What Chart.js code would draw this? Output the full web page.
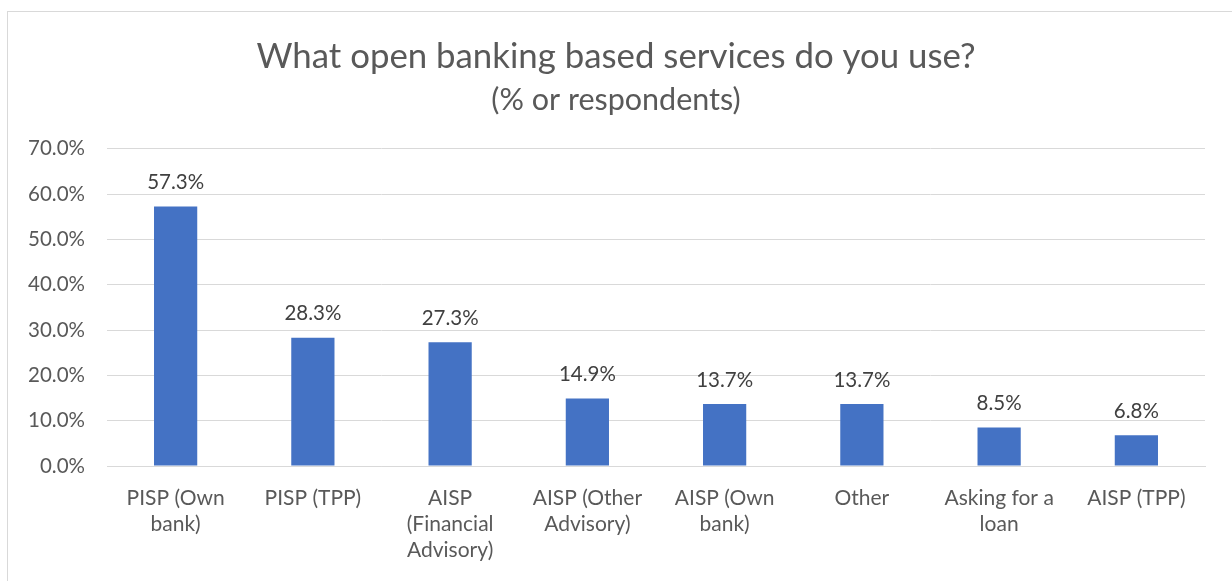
<!DOCTYPE html>
<html>
<head>
<meta charset="utf-8">
<script src="https://cdn.jsdelivr.net/npm/chart.js@4/dist/chart.umd.min.js"></script>
<style>
  html, body { margin: 0; padding: 0; background: #fff; }
  #wrap { width: 1232px; height: 581px; position: relative; }
</style>
</head>
<body>
<div id="wrap"><canvas id="chart" width="1232" height="581"></canvas></div>
<script>
const categories = [
  ['PISP (Own', 'bank)'],
  'PISP (TPP)',
  ['AISP', '(Financial', 'Advisory)'],
  ['AISP (Other', 'Advisory)'],
  ['AISP (Own', 'bank)'],
  'Other',
  ['Asking for a', 'loan'],
  'AISP (TPP)'
]
const shares = [57.3, 28.3, 27.3, 14.9, 13.7, 13.7, 8.5, 6.8]

const FONT = 'Lato, "Liberation Sans", sans-serif'

// light frame round the chart (only top + left show in the picture)
const framePlugin = {
  id: 'frame',
  beforeDraw(chart) {
    const ctx = chart.ctx
    ctx.save()
    ctx.strokeStyle = '#d9d9d9'
    ctx.lineWidth = 1
    ctx.strokeRect(7.5, 11.5, 1240, 600)
    ctx.restore()
  }
}

// value labels above each bar
const valueLabels = {
  id: 'valueLabels',
  afterDatasetsDraw(chart) {
    const ctx = chart.ctx
    const meta = chart.getDatasetMeta(0)
    ctx.save()
    ctx.font = '20.5px ' + FONT
    ctx.fillStyle = '#404040'
    ctx.textAlign = 'center'
    ctx.textBaseline = 'middle'
    meta.data.forEach((bar, i) => {
      ctx.fillText(shares[i].toFixed(1) + '%', bar.x, bar.y - 24)
    })
    ctx.restore()
  }
}

Chart.defaults.font.family = FONT
Chart.defaults.color = '#595959'

new Chart(document.getElementById('chart'), {
  type: 'bar',
  data: {
    labels: categories,
    datasets: [{
      data: shares,
      backgroundColor: '#4472c4',
      categoryPercentage: 1,
      barPercentage: 0.315
    }]
  },
  options: {
    responsive: false,
    animation: false,
    layout: { padding: 0 },
    plugins: {
      legend: { display: false },
      tooltip: { enabled: false },
      title: {
        display: true,
        text: 'What open banking based services do you use?',
        color: '#595959',
        font: { size: 34.8, weight: 'normal', lineHeight: 1.2 },
        padding: { top: 36, bottom: 0 }
      },
      subtitle: {
        display: true,
        text: '(% or respondents)',
        color: '#595959',
        font: { size: 30.5, weight: 'normal', lineHeight: 1.2 },
        padding: { top: 3.8, bottom: 30.7 }
      }
    },
    scales: {
      y: {
        min: 0,
        max: 70,
        afterFit(scale) { scale.width = 107 },
        ticks: {
          stepSize: 10,
          padding: 22,
          font: { size: 20.5 },
          color: '#595959',
          callback: v => v.toFixed(1) + '%'
        },
        grid: { color: '#d9d9d9', drawTicks: false },
        border: { display: false }
      },
      // empty right-hand axis just to keep the right margin
      yRight: {
        position: 'right',
        min: 0,
        max: 70,
        afterFit(scale) { scale.width = 27 },
        ticks: { display: false },
        grid: { display: false, drawTicks: false },
        border: { display: false }
      },
      x: {
        afterFit(scale) { scale.height = 115 },
        ticks: {
          autoSkip: false,
          maxRotation: 0,
          padding: 19,
          font: { size: 21, lineHeight: 1.25 },
          color: '#595959'
        },
        grid: { display: false, drawTicks: false },
        border: { color: '#d9d9d9' }
      }
    }
  },
  plugins: [framePlugin, valueLabels]
})
</script>
</body>
</html>
